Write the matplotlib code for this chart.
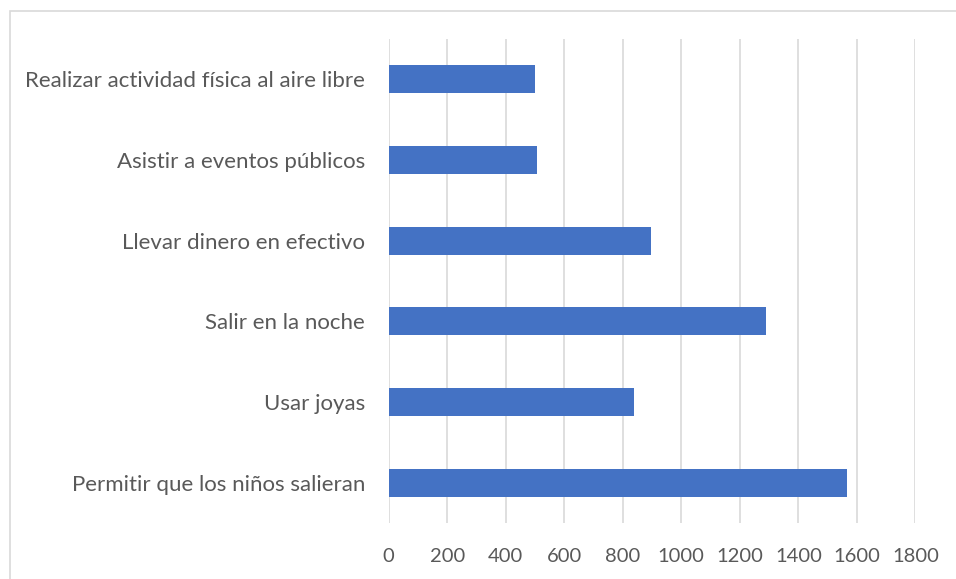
import matplotlib
matplotlib.use("Agg")
import matplotlib.pyplot as plt
from matplotlib.patches import Rectangle

categories = [
    "Realizar actividad física al aire libre",
    "Asistir a eventos públicos",
    "Llevar dinero en efectivo",
    "Salir en la noche",
    "Usar joyas",
    "Permitir que los niños salieran",
]
values = [501, 506, 897, 1288, 837, 1565]
xticks = [0, 200, 400, 600, 800, 1000, 1200, 1400, 1600, 1800]

W, H = 956, 579
fig = plt.figure(figsize=(W / 100, H / 100), dpi=100)
plt.rcParams['font.family'] = ['Lato', 'DejaVu Sans']

# outer chart frame (cropped at right and bottom)
fig.patches.append(Rectangle((9.5 / W, -0.1), 2, (H - 10.5) / H + 0.1,
                             transform=fig.transFigure, fill=False,
                             edgecolor='#D9D9D9', linewidth=1.2))

ax = fig.add_axes([388.6 / W, 1 - 523 / H, (915.4 - 388.6) / W, (523 - 39) / H])
y = list(range(len(categories)))
ax.barh(y, values, height=0.345, color='#4472C4', zorder=3)
ax.set_ylim(len(categories) - 0.5, -0.5)
ax.set_xlim(0, 1800)
ax.set_xticks(xticks)
ax.set_xticklabels([str(t) for t in xticks])
ax.set_yticks(y)
ax.set_yticklabels(categories)
ax.tick_params(axis='both', length=0, labelcolor='#595959')
ax.tick_params(axis='y', pad=17, labelsize=16)
ax.tick_params(axis='x', pad=18, labelsize=14.5)
ax.grid(axis='x', color='#D9D9D9', linewidth=1.2, zorder=0)
for s in ax.spines.values():
    s.set_visible(False)

fig.savefig("out.png", dpi=100)
